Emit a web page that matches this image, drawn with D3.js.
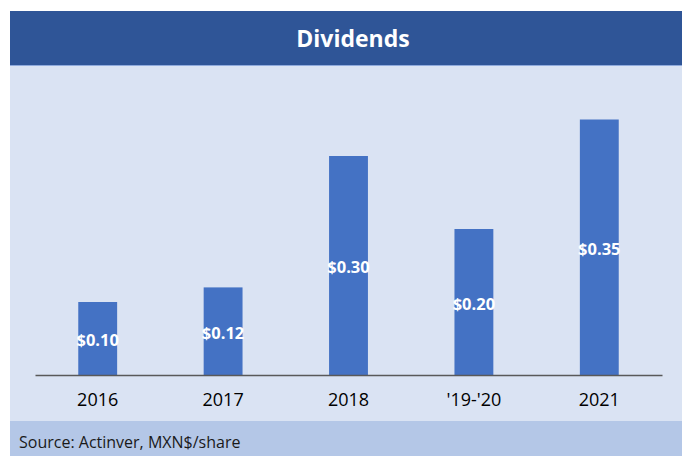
<!DOCTYPE html>
<html lang="en">
<head>
    <meta charset="UTF-8">
    <title>Dividends</title>
    <style>
        body { margin: 0; background: #fff; }
    </style>
</head>
<body>
    <div id="chart"></div>
    <script src="https://d3js.org/d3.v7.min.js"></script>
    <script>
        // data
        const years = ["2016", "2017", "2018", "'19-'20", "2021"]
        const dividends = [0.10, 0.12, 0.30, 0.20, 0.35]
        const valueLabels = ["$0.10", "$0.12", "$0.30", "$0.20", "$0.35"]
        const title = "Dividends"
        const source = "Source: Actinver, MXN$/share"

        const [width, height] = [682, 456]
        const font = "'Open Sans', 'Noto Sans', sans-serif"

        const svg = d3.select('#chart').append('svg')
            .attr('width', width)
            .attr('height', height)

        // panel background pieces
        svg.append('rect').attr('x', 10).attr('y', 11).attr('width', width - 10).attr('height', 54)
            .attr('fill', '#2F5597')
        svg.append('rect').attr('x', 10).attr('y', 65).attr('width', width - 10).attr('height', 356)
            .attr('fill', '#DAE3F3')
        svg.append('line').attr('x1', 10).attr('x2', width).attr('y1', 65.5).attr('y2', 65.5)
            .attr('stroke', '#8FAADC').attr('stroke-width', 1)
        svg.append('rect').attr('x', 10).attr('y', 421).attr('width', width - 10).attr('height', 35)
            .attr('fill', '#B4C7E7')

        svg.append('text')
            .attr('x', 353).attr('y', 47)
            .attr('text-anchor', 'middle')
            .attr('fill', '#fff')
            .style('font-family', font)
            .style('font-weight', 'bold')
            .style('font-size', '23px')
            .text(title)

        svg.append('text')
            .attr('x', 19).attr('y', 448)
            .attr('fill', '#1a1a1a')
            .style('font-family', font)
            .style('font-size', '16px')
            .text(source)

        const x = d3.scaleBand()
            .domain(years)
            .range([35, 662])
            .paddingInner(0.69)
            .paddingOuter(0.345)

        const y = d3.scaleLinear()
            .domain([0, 0.4])
            .range([375, 83])

        const data = years.map((c, i) => ({ cat: c, v: dividends[i], label: valueLabels[i] }))

        svg.selectAll('rect.bar')
            .data(data)
            .enter().append('rect')
            .attr('class', 'bar')
            .attr('x', d => x(d.cat))
            .attr('y', d => y(d.v))
            .attr('width', x.bandwidth())
            .attr('height', d => y(0) - y(d.v))
            .attr('fill', '#4472C4')

        svg.selectAll('text.val')
            .data(data)
            .enter().append('text')
            .attr('class', 'val')
            .attr('x', d => x(d.cat) + x.bandwidth() / 2)
            .attr('y', d => (y(d.v) + y(0)) / 2 + 2)
            .attr('dy', '0.36em')
            .attr('text-anchor', 'middle')
            .attr('fill', '#fff')
            .style('font-family', font)
            .style('font-weight', 'bold')
            .style('font-size', '16.5px')
            .text(d => d.label)

        // category axis
        const xAxis = svg.append('g')
            .attr('transform', 'translate(0,375)')
            .call(d3.axisBottom(x).tickSize(0).tickPadding(18))
        xAxis.select('.domain').attr('stroke', '#595959').attr('stroke-width', 1.5)
        xAxis.selectAll('text')
            .attr('fill', '#000')
            .style('font-family', font)
            .style('font-size', '18px')
    </script>
</body>
</html>
